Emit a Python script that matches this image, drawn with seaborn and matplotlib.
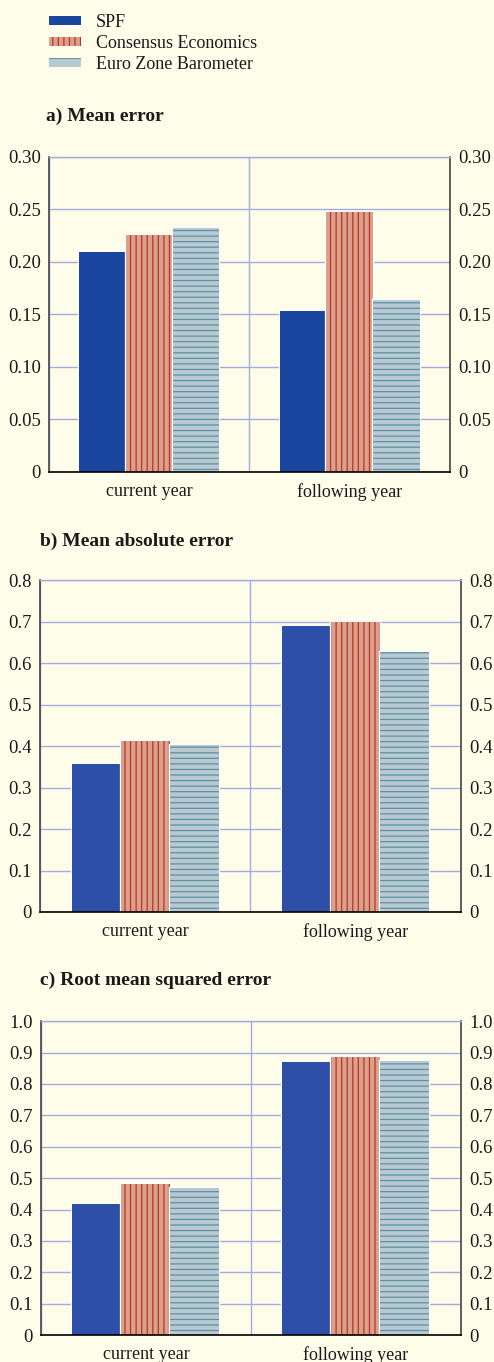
import numpy as np
import pandas as pd
import matplotlib.pyplot as plt
import matplotlib.patches as mpatches
import matplotlib.patheffects as pe
import seaborn as sns

# data
horizons = ["current year", "following year"]
sources = ["SPF", "Consensus Economics", "Euro Zone Barometer"]

mean_err_spf = [0.209, 0.153]
mean_err_ce = [0.226, 0.248]
mean_err_ezb = [0.232, 0.164]

mae_spf = [0.356, 0.691]
mae_ce = [0.413, 0.699]
mae_ezb = [0.402, 0.627]

rmse_spf = [0.418, 0.870]
rmse_ce = [0.482, 0.885]
rmse_ezb = [0.468, 0.872]

ticks_a = [0, 0.05, 0.10, 0.15, 0.20, 0.25, 0.30]
labels_a = ["0", "0.05", "0.10", "0.15", "0.20", "0.25", "0.30"]
ticks_b = [0, 0.1, 0.2, 0.3, 0.4, 0.5, 0.6, 0.7, 0.8]
labels_b = ["0", "0.1", "0.2", "0.3", "0.4", "0.5", "0.6", "0.7", "0.8"]
ticks_c = [0, 0.1, 0.2, 0.3, 0.4, 0.5, 0.6, 0.7, 0.8, 0.9, 1.0]
labels_c = ["0", "0.1", "0.2", "0.3", "0.4", "0.5", "0.6", "0.7", "0.8", "0.9", "1.0"]

titles = ["a) Mean error", "b) Mean absolute error", "c) Root mean squared error"]

sns.set_style("white")
plt.rcParams['font.family'] = ['Liberation Serif', 'DejaVu Serif']
plt.rcParams['hatch.linewidth'] = 0.9

bg = '#fefdea'
grid_c = '#a3aae0'
ce_face = '#d9a18c'
ce_line = '#bf3326'
ezb_face = '#b9c9d2'
ezb_line = '#5b91a3'
txt_c = '#1a1a1a'

panels = [
    (mean_err_spf, mean_err_ce, mean_err_ezb, ticks_a, labels_a, titles[0],
     [0.0992, 0.6535, 0.8117, 0.2313], (0.093, 0.9148), '#1b46a0'),
    (mae_spf, mae_ce, mae_ezb, ticks_b, labels_b, titles[1],
     [0.081, 0.3304, 0.852, 0.2435], (0.080, 0.6023), '#2d4fa8'),
    (rmse_spf, rmse_ce, rmse_ezb, ticks_c, labels_c, titles[2],
     [0.083, 0.0198, 0.850, 0.2304], (0.081, 0.2800), '#2d4fa8'),
]

fig = plt.figure(figsize=(4.94, 13.62), dpi=100, facecolor=bg)

for spf, ce, ezb, ticks, labels, title, rect, txy, spf_col in panels:
    df = pd.DataFrame({
        'horizon': horizons * 3,
        'source': np.repeat(sources, 2),
        'value': spf + ce + ezb,
    })
    ax = fig.add_axes(rect, facecolor=bg)
    sns.barplot(data=df, x='horizon', y='value', hue='source', order=horizons,
                hue_order=sources, palette=[spf_col, ce_face, ezb_face],
                saturation=1, width=0.7, legend=False, ax=ax)

    for cont, hatch, hc in zip(ax.containers, ['', '|||', '---'], [spf_col, ce_line, ezb_line]):
        for p in cont:
            p.set_hatch(hatch)
            p.set_edgecolor(hc)
            p.set_linewidth(0)
            p.set_path_effects([pe.Stroke(linewidth=1.6, foreground='white'), pe.Normal()])

    ax.set_xlim(-0.5, 1.5)
    ax.set_ylim(0, ticks[-1])
    ax.set_yticks(ticks)
    ax.set_yticklabels(labels)
    ax.set_xlabel('')
    ax.set_ylabel('')
    ax.set_axisbelow(True)

    ax.set_xticks([-0.5, 0.5, 1.5], minor=True)
    ax.grid(axis='y', which='major', color=grid_c, lw=1)
    ax.grid(axis='x', which='minor', color=grid_c, lw=1)
    ax.grid(axis='x', which='major', visible=False)

    ax.tick_params(axis='y', which='both', left=False, right=False, length=0,
                   labelleft=True, labelright=True, pad=6,
                   labelsize=13.5, labelcolor=txt_c)
    ax.tick_params(axis='x', which='major', length=0, pad=8, labelsize=13, labelcolor=txt_c)
    ax.tick_params(axis='x', which='minor', length=4, width=1, direction='out', color='black')

    ax.spines['top'].set_color(grid_c)
    ax.spines['top'].set_linewidth(1)
    ax.spines['left'].set_color('#444444')
    ax.spines['right'].set_color('#444444')
    ax.spines['bottom'].set_color('black')
    for s in ['left', 'right', 'bottom']:
        ax.spines[s].set_linewidth(1.2)

    fig.text(txy[0], txy[1], title, fontsize=14, fontweight='bold', va='center', ha='left', color=txt_c)

handles = [
    mpatches.Patch(facecolor='#1b46a0', edgecolor='#1b46a0', lw=0),
    mpatches.Patch(facecolor=ce_face, edgecolor=ce_line, hatch='|||', lw=0),
    mpatches.Patch(facecolor=ezb_face, edgecolor=ezb_line, hatch='-', lw=0),
]
fig.legend(handles, sources, loc='upper left', bbox_to_anchor=(0.099, 0.990),
           frameon=False, fontsize=13, handlelength=1.75, handleheight=0.38,
           handletextpad=0.85, labelspacing=0.22, borderpad=0, borderaxespad=0,
           labelcolor=txt_c)

fig.savefig('out.png', dpi=100, facecolor=bg)
